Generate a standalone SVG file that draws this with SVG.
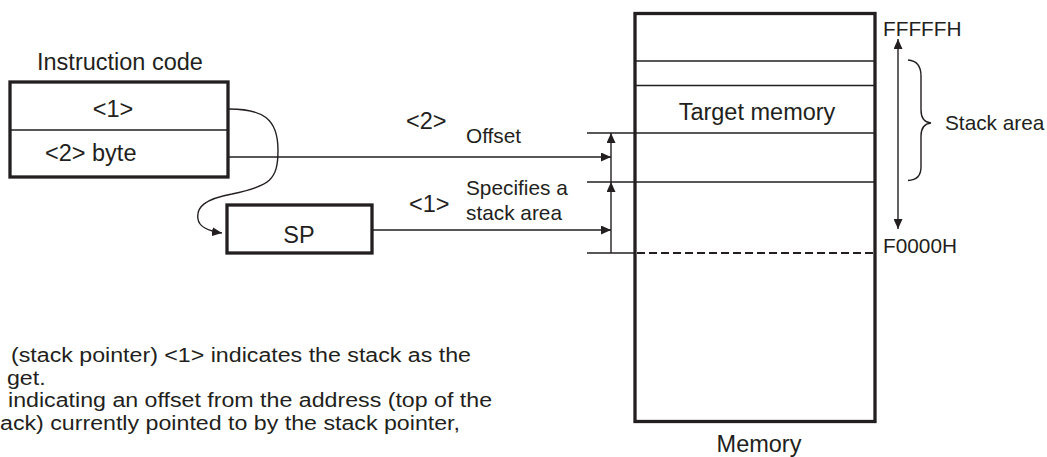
<svg xmlns="http://www.w3.org/2000/svg" width="1047" height="457" viewBox="0 0 1047 457">
<style>
text{font-family:"Liberation Sans",Arial,Helvetica,sans-serif;fill:#231f20}
.big{font-size:23.5px}
.sm{font-size:20.8px}
.note{font-size:20px}
.box{fill:#fff;stroke:#231f20;stroke-width:3.3}
.ln{fill:none;stroke:#231f20;stroke-width:1.4}
.dash{fill:none;stroke:#231f20;stroke-width:1.8;stroke-dasharray:8 4}
</style>
<defs>
<marker id="ah" markerUnits="userSpaceOnUse" markerWidth="11" markerHeight="9" refX="10" refY="4.5" orient="auto-start-reverse">
<path d="M0,0 L10,4.5 L0,9 z" fill="#231f20"/>
</marker>
</defs>
<rect width="1047" height="457" fill="#fff"/>

<g id="instruction-code">
<text class="big" x="37" y="70">Instruction code</text>
<rect class="box" x="10" y="82" width="218" height="95"/>
<line class="ln" x1="10" y1="130" x2="228" y2="130"/>
<text class="big" x="113" y="117" text-anchor="middle">&lt;1&gt;</text>
<text class="big" x="45" y="161">&lt;2&gt; byte</text>
</g>

<g id="sp">
<rect class="box" x="227" y="205" width="145" height="48"/>
<text class="big" x="299" y="243" text-anchor="middle">SP</text>
</g>

<g id="memory">
<rect class="box" x="635" y="13.5" width="240" height="408"/>
<line class="ln" x1="635" y1="61" x2="875" y2="61"/>
<line class="ln" x1="635" y1="85.5" x2="875" y2="85.5"/>
<line class="ln" x1="635" y1="133" x2="875" y2="133"/>
<line class="ln" x1="635" y1="182" x2="875" y2="182"/>
<line class="dash" x1="637" y1="253" x2="874" y2="253"/>
<text class="big" x="757" y="120" text-anchor="middle">Target memory</text>
<text class="big" x="759" y="452" text-anchor="middle">Memory</text>
</g>

<g id="addresses">
<text class="sm" x="883" y="36">FFFFFH</text>
<text class="sm" x="883" y="253">F0000H</text>
<line class="ln" x1="898" y1="39" x2="898" y2="229" marker-start="url(#ah)" marker-end="url(#ah)"/>
</g>

<g id="stack-area">
<path class="ln" d="M908,60 Q921,61 921,76 L921,110 Q921,122 931,123 Q921,124 921,136 L921,167 Q921,180 908,180.5"/>
<text class="sm" x="945" y="130">Stack area</text>
</g>

<g id="connectors">
<path class="ln" d="M229,109 C262,109 278,118 278,150 C278,180 270,186 232,194 C205,199 196,207 198,219 C199,227 208,231 222,233" marker-end="url(#ah)"/>
<line class="ln" x1="228" y1="157" x2="611" y2="157" marker-end="url(#ah)"/>
<line class="ln" x1="372" y1="230" x2="611" y2="230" marker-end="url(#ah)"/>
<line class="ln" x1="587" y1="133" x2="635" y2="133"/>
<line class="ln" x1="587" y1="182" x2="635" y2="182"/>
<line class="ln" x1="587" y1="253" x2="635" y2="253"/>
<line class="ln" x1="611" y1="253" x2="611" y2="182" marker-end="url(#ah)"/>
<line class="ln" x1="611" y1="182" x2="611" y2="133" marker-end="url(#ah)"/>
</g>

<g id="labels">
<text class="big" x="406" y="129">&lt;2&gt;</text>
<text class="sm" x="466" y="143">Offset</text>
<text class="big" x="409" y="212">&lt;1&gt;</text>
<text class="sm" x="466" y="195">Specifies a</text>
<text class="sm" x="466" y="220">stack area</text>
</g>

<g id="notes" transform="scale(1.16,1)">
<text class="note" x="9.5" y="362.5">(stack pointer) &lt;1&gt; indicates the stack as the</text>
<text class="note" x="6" y="385">get.</text>
<text class="note" x="6.9" y="407.5">indicating an offset from the address (top of the</text>
<text class="note" x="0" y="430">ack) currently pointed to by the stack pointer,</text>
</g>
</svg>
